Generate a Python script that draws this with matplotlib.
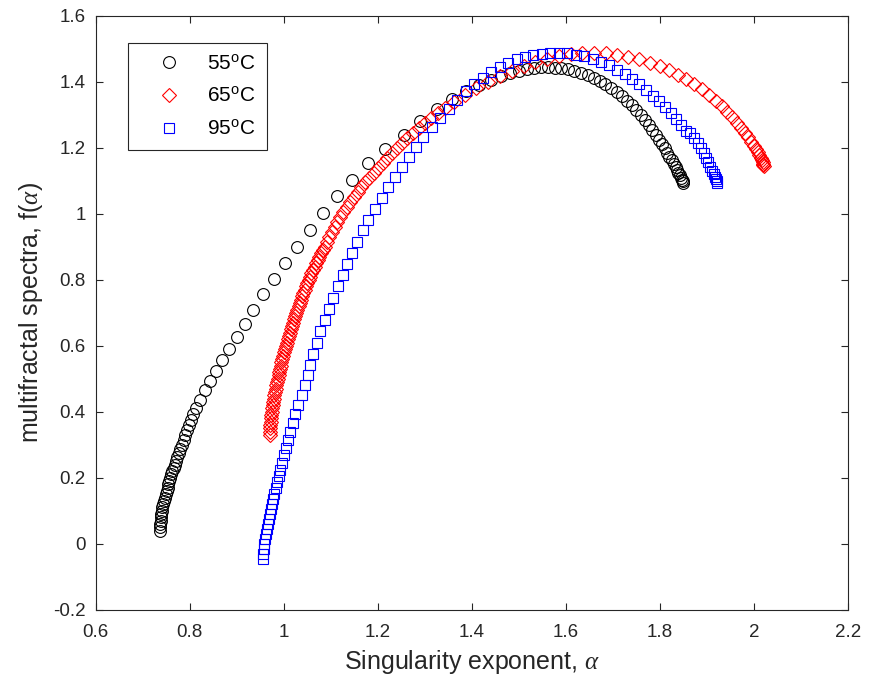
import matplotlib
matplotlib.use("Agg")
import matplotlib.pyplot as plt

plt.rcParams['font.family'] = ['Liberation Sans', 'DejaVu Sans']
plt.rcParams['mathtext.fontset'] = 'custom'
plt.rcParams['mathtext.rm'] = 'Liberation Sans'
plt.rcParams['mathtext.it'] = 'Liberation Serif:italic'

# 55 oC  (alpha, f(alpha))
alpha_55 = [0.7370, 0.7375, 0.7380, 0.7385, 0.7390, 0.7400, 0.7410, 0.7420, 0.7440, 0.7450,
            0.7470, 0.7490, 0.7510, 0.7530, 0.7550, 0.7570, 0.7590, 0.7610, 0.7630, 0.7660,
            0.7680, 0.7710, 0.7740, 0.7770, 0.7800, 0.7830, 0.7870, 0.7910, 0.7950, 0.7990,
            0.8030, 0.8080, 0.8130,
            0.823, 0.833, 0.844, 0.856, 0.869, 0.884, 0.900, 0.917, 0.935, 0.956,
            0.979, 1.003, 1.028, 1.055, 1.083, 1.114, 1.145, 1.180, 1.216, 1.255,
            1.290, 1.325, 1.358, 1.388, 1.415, 1.440, 1.462, 1.482, 1.500, 1.517,
            1.533, 1.548, 1.562, 1.576, 1.590, 1.604, 1.618, 1.632, 1.646, 1.659,
            1.672, 1.684, 1.696, 1.708, 1.719, 1.730, 1.740, 1.750, 1.759, 1.768,
            1.776, 1.784, 1.791, 1.798, 1.804, 1.810, 1.815, 1.820, 1.825, 1.829,
            1.833, 1.836, 1.839, 1.842, 1.844, 1.846, 1.848, 1.849]
f_55 = [0.040, 0.050, 0.060, 0.070, 0.080, 0.090, 0.100, 0.110, 0.120, 0.130,
        0.140, 0.150, 0.160, 0.170, 0.180, 0.190, 0.200, 0.210, 0.220, 0.230,
        0.240, 0.250, 0.262, 0.274, 0.287, 0.300, 0.315, 0.330, 0.345, 0.360,
        0.376, 0.393, 0.410,
        0.437, 0.465, 0.494, 0.525, 0.557, 0.590, 0.628, 0.667, 0.709, 0.756,
        0.802, 0.851, 0.900, 0.952, 1.002, 1.055, 1.103, 1.153, 1.197, 1.240,
        1.281, 1.318, 1.348, 1.372, 1.391, 1.406, 1.418, 1.427, 1.434, 1.439,
        1.442, 1.444, 1.444, 1.443, 1.441, 1.438, 1.433, 1.427, 1.420, 1.412,
        1.403, 1.393, 1.382, 1.370, 1.357, 1.343, 1.329, 1.314, 1.299, 1.284,
        1.269, 1.254, 1.239, 1.225, 1.211, 1.198, 1.185, 1.173, 1.162, 1.151,
        1.141, 1.132, 1.124, 1.117, 1.110, 1.104, 1.099, 1.094]

# 65 oC
alpha_65 = [0.9700, 0.9705, 0.9710, 0.9715, 0.9720, 0.9730, 0.9740, 0.9750, 0.9760, 0.9770,
            0.9780, 0.9790, 0.9800, 0.9810, 0.9830, 0.9840, 0.9860, 0.9870, 0.9890, 0.9900,
            0.9920, 0.9940, 0.9950, 0.9970, 0.9990, 1.0010, 1.0030, 1.0050, 1.0070, 1.0090,
            1.0110, 1.0130, 1.0150, 1.0170, 1.0200, 1.0220, 1.0240, 1.0270, 1.0290, 1.0320,
            1.0340, 1.0370, 1.0390, 1.0420, 1.0450, 1.0480, 1.0500, 1.0530, 1.0560, 1.0590,
            1.0620, 1.0660, 1.0690, 1.0720, 1.0760, 1.0790, 1.0830, 1.0870,
            1.092, 1.097, 1.103, 1.108, 1.114, 1.120, 1.127, 1.134, 1.141, 1.149,
            1.157, 1.165, 1.173, 1.182, 1.191, 1.200, 1.210, 1.220, 1.230, 1.241,
            1.252, 1.263, 1.275, 1.287, 1.300, 1.314, 1.328, 1.343,
            1.363, 1.385, 1.409, 1.435, 1.460, 1.485, 1.510, 1.535, 1.560, 1.585,
            1.610, 1.635, 1.660,
            1.685, 1.709, 1.733, 1.756, 1.778, 1.799, 1.819, 1.838, 1.856, 1.873,
            1.889, 1.904, 1.918, 1.931, 1.943, 1.954, 1.964, 1.973, 1.981, 1.988,
            1.994, 1.999, 2.004, 2.008, 2.011, 2.014, 2.016, 2.018, 2.019, 2.020, 2.021]
f_65 = [0.330, 0.340, 0.350, 0.360, 0.370, 0.380, 0.390, 0.400, 0.410, 0.420,
        0.430, 0.440, 0.450, 0.460, 0.470, 0.480, 0.490, 0.500, 0.510, 0.520,
        0.530, 0.540, 0.550, 0.560, 0.570, 0.580, 0.590, 0.600, 0.610, 0.620,
        0.630, 0.640, 0.650, 0.660, 0.670, 0.680, 0.690, 0.700, 0.710, 0.720,
        0.730, 0.740, 0.750, 0.760, 0.770, 0.780, 0.790, 0.800, 0.810, 0.820,
        0.830, 0.840, 0.850, 0.860, 0.870, 0.880, 0.890, 0.900,
        0.915, 0.930, 0.945, 0.960, 0.975, 0.990, 1.005, 1.020, 1.035, 1.050,
        1.065, 1.080, 1.095, 1.110, 1.125, 1.140, 1.155, 1.170, 1.185, 1.200,
        1.215, 1.230, 1.245, 1.260, 1.275, 1.290, 1.305, 1.320,
        1.340, 1.360, 1.380, 1.400, 1.418, 1.434, 1.448, 1.460, 1.470, 1.478,
        1.484, 1.487, 1.488,
        1.486, 1.482, 1.476, 1.468, 1.458, 1.447, 1.435, 1.422, 1.408, 1.393,
        1.377, 1.360, 1.343, 1.326, 1.309, 1.292, 1.276, 1.261, 1.246, 1.232,
        1.219, 1.207, 1.196, 1.186, 1.177, 1.169, 1.162, 1.156, 1.151, 1.147, 1.144]

# 95 oC
alpha_95 = [0.955, 0.956, 0.957, 0.958, 0.960, 0.962, 0.964, 0.966, 0.968, 0.971,
            0.973, 0.975, 0.978, 0.980, 0.983, 0.986, 0.989, 0.993, 0.996, 1.000,
            1.004, 1.009, 1.014, 1.019, 1.025, 1.031, 1.038, 1.045, 1.051, 1.056,
            1.062, 1.070, 1.078, 1.087, 1.096, 1.105, 1.115, 1.125, 1.135, 1.145,
            1.156, 1.168, 1.180, 1.194, 1.208, 1.222, 1.237, 1.252, 1.267, 1.282,
            1.297, 1.315, 1.333, 1.351, 1.369, 1.387, 1.405, 1.423, 1.441, 1.459,
            1.477, 1.495, 1.513, 1.531, 1.549, 1.567, 1.585, 1.603, 1.621, 1.639,
            1.657, 1.675, 1.692, 1.709, 1.725, 1.741, 1.756, 1.771, 1.785, 1.798,
            1.811, 1.823, 1.834, 1.845, 1.855, 1.864, 1.872, 1.880, 1.887, 1.893,
            1.898, 1.903, 1.907, 1.911, 1.914, 1.917, 1.919, 1.921, 1.922]
f_95 = [-0.045, -0.030, -0.015, 0.000, 0.015, 0.030, 0.045, 0.060, 0.075, 0.090,
        0.105, 0.120, 0.135, 0.150, 0.168, 0.186, 0.205, 0.225, 0.246, 0.268,
        0.291, 0.315, 0.340, 0.366, 0.393, 0.421, 0.450, 0.480, 0.511, 0.543,
        0.576, 0.610, 0.644, 0.678, 0.712, 0.746, 0.780, 0.814, 0.848, 0.882,
        0.916, 0.950, 0.982, 1.015, 1.048, 1.080, 1.112, 1.143, 1.173, 1.203,
        1.232, 1.262, 1.290, 1.317, 1.345, 1.372, 1.393, 1.413, 1.430, 1.445,
        1.458, 1.468, 1.476, 1.482, 1.485, 1.487, 1.487, 1.486, 1.482, 1.477,
        1.470, 1.461, 1.450, 1.437, 1.423, 1.408, 1.392, 1.375, 1.358, 1.341,
        1.323, 1.305, 1.287, 1.269, 1.251, 1.245, 1.230, 1.215, 1.200, 1.185,
        1.170, 1.156, 1.143, 1.131, 1.121, 1.112, 1.105, 1.099, 1.094]

labels = ['55$^{\\mathrm{o}}$C', '65$^{\\mathrm{o}}$C', '95$^{\\mathrm{o}}$C']
x_ticks = [0.6, 0.8, 1, 1.2, 1.4, 1.6, 1.8, 2, 2.2]
y_ticks = [-0.2, 0, 0.2, 0.4, 0.6, 0.8, 1, 1.2, 1.4, 1.6]

axis_col = '#262626'

fig = plt.figure(figsize=(8.69, 6.89), dpi=100)
ax = fig.add_axes([0.110, 0.115, 0.866, 0.862])

ax.plot(alpha_55, f_55, linestyle='none', marker='o', markersize=8.5,
        markerfacecolor='none', markeredgecolor='k', markeredgewidth=0.8, label=labels[0])
ax.plot(alpha_65, f_65, linestyle='none', marker='D', markersize=7.5,
        markerfacecolor='none', markeredgecolor='#ff0000', markeredgewidth=0.8, label=labels[1])
ax.plot(alpha_95, f_95, linestyle='none', marker='s', markersize=7.5,
        markerfacecolor='none', markeredgecolor='#0000ff', markeredgewidth=0.8, label=labels[2])

ax.set_xlim(0.6, 2.2)
ax.set_ylim(-0.2, 1.6)
ax.set_xticks(x_ticks)
ax.set_xticklabels([f'{t:g}' for t in x_ticks])
ax.set_yticks(y_ticks)
ax.set_yticklabels([f'{t:g}' for t in y_ticks])
ax.tick_params(direction='in', top=True, right=True, length=5, width=0.8,
               labelsize=13.5, colors=axis_col, labelcolor=axis_col)
ax.tick_params(axis='x', pad=10)
ax.tick_params(axis='y', pad=7)
for s in ax.spines.values():
    s.set_color(axis_col)
    s.set_linewidth(0.8)

ax.set_xlabel('Singularity exponent, $\\alpha$', fontsize=18, color=axis_col, labelpad=5)
ax.set_ylabel('multifractal spectra, f($\\alpha$)', fontsize=18, color=axis_col, labelpad=6)

leg = ax.legend(loc='upper left', bbox_to_anchor=(0.043, 0.955), borderaxespad=0,
                fontsize=15, frameon=True, fancybox=False, framealpha=1,
                edgecolor=axis_col, handlelength=2.85, handletextpad=0.4,
                borderpad=0.55, labelspacing=0.65)
leg.get_frame().set_linewidth(0.8)

fig.savefig('out.png', dpi=100)
